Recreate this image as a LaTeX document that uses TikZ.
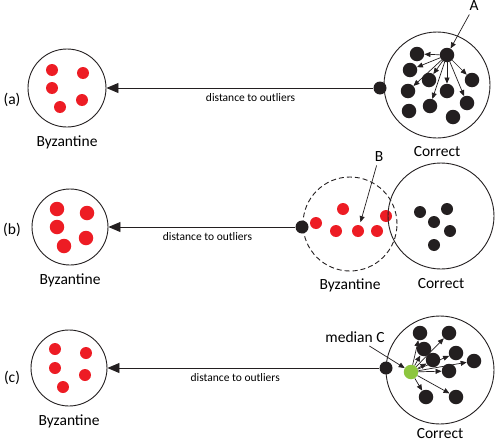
\documentclass[tikz,border=0pt]{standalone}
\usepackage{fontspec}
\setmainfont{Carlito}
\usepackage{tikz}
\usetikzlibrary{arrows.meta,positioning}
\definecolor{byzred}{HTML}{ED1C24}
\definecolor{medgreen}{HTML}{8DC63F}
\definecolor{dotblack}{HTML}{231F20}
\begin{document}
\begin{tikzpicture}[
  x=1pt,y=-1pt,
  font=\fontsize{15.5}{18}\selectfont,
  setcirc/.style={circle,draw=dotblack,line width=0.9pt,inner sep=0pt},
  reddot/.style={circle,fill=byzred,inner sep=0pt,minimum size=#1},
  reddot/.default=12pt,
  blkdot/.style={circle,fill=dotblack,inner sep=0pt,minimum size=#1},
  blkdot/.default=14.5pt,
  greendot/.style={circle,fill=medgreen,inner sep=0pt,minimum size=14.5pt},
  small/.style={font=\fontsize{11.5}{13}\selectfont},
  bigarr/.style={-{Triangle[length=12pt,width=10pt]},line width=0.9pt,draw=dotblack},
  smallarr/.style={-{Triangle[length=6pt,width=5pt]},line width=0.7pt,draw=dotblack}
]
\useasboundingbox (0,0) rectangle (496,442);

% (a)
\node (taga) at (12,100) {(a)};
\node[setcirc,minimum size=78pt] (byza) at (67,88) {};
\node[reddot] (ra1) at (52,70) {};
\node[reddot] (ra2) at (83,73) {};
\node[reddot] (ra3) at (52,88) {};
\node[reddot] (ra4) at (82,100) {};
\node[reddot] (ra5) at (60,107) {};
\node[below=5pt of byza] (byzlbla) {Byzantine};

\node[setcirc,minimum size=106pt] (corra) at (437,85) {};
\node[blkdot=13pt] (pa) at (380,88) {};
\node[blkdot] (ptA) at (447,55) {};
\node[blkdot] (ca1) at (417,54) {};
\node[blkdot] (ca2) at (410,70) {};
\node[blkdot] (ca3) at (429,80) {};
\node[blkdot] (ca4) at (472,80) {};
\node[blkdot] (ca5) at (408,91) {};
\node[blkdot] (ca6) at (447,91) {};
\node[blkdot] (ca7) at (467,103) {};
\node[blkdot] (ca8) at (409,111) {};
\node[blkdot] (ca9) at (430,106) {};
\node[blkdot] (ca10) at (453,117) {};
\node[below=4pt of corra] (corlbla) {Correct};
\node (lblA) at (474,6) {A};

\draw[smallarr] (lblA) -- (ptA);
\draw[smallarr] (ptA) -- (ca1);
\draw[smallarr] (ptA) -- (ca2);
\draw[smallarr] (ptA) -- (ca3);
\draw[smallarr] (ptA) -- (ca4);
\draw[smallarr] (ptA) -- (ca5);
\draw[smallarr] (ptA) -- (ca6);
\draw[smallarr] (ptA) -- (ca7);
\draw[smallarr] (ptA) -- (ca9);
\draw[bigarr] (pa) -- node[pos=.46,below=2pt,small]{distance to outliers} (byza);

% (b)
\node (tagb) at (12,230) {(b)};
\node[setcirc,minimum size=76pt] (byzb) at (70,227) {};
\node[reddot=14.5pt] (rb1) at (57,209) {};
\node[reddot=14.5pt] (rb2) at (87,213) {};
\node[reddot=14.5pt] (rb3) at (57,227) {};
\node[reddot=14.5pt] (rb4) at (86,238) {};
\node[reddot=14.5pt] (rb5) at (64,246) {};
\node[below=5pt of byzb] (byzlblb) {Byzantine};

\node[setcirc,dashed,dash pattern=on 5pt off 3pt,minimum size=94pt] (outl) at (350,224) {};
\node[reddot] (ob1) at (316,223) {};
\node[reddot] (ob2) at (343,209) {};
\node[reddot] (ob3) at (336,231) {};
\node[reddot] (ob4) at (358,231) {};
\node[reddot] (ob5) at (377,231) {};
\node[reddot] (ob6) at (386,216) {};
\node[blkdot=13pt] (pb) at (302,227) {};
\node[below=4pt of outl] (outlbl) {Byzantine};

\node[setcirc,minimum size=106pt] (corrb) at (441,216) {};
\node[blkdot=12pt] (cb1) at (420,212) {};
\node[blkdot=12pt] (cb2) at (447,209) {};
\node[blkdot=12pt] (cb3) at (434,222) {};
\node[blkdot=12pt] (cb4) at (450,231) {};
\node[blkdot=12pt] (cb5) at (434,245) {};
\node[below=5pt of corrb] (corlblb) {Correct};
\node (lblB) at (379,157) {B};

\draw[smallarr,shorten >=3pt] (lblB) -- (ob4);
\draw[bigarr] (pb) -- node[pos=.47,below=2pt,small]{distance to outliers} (byzb);

% (c)
\node (tagc) at (12,378) {(c)};
\node[setcirc,minimum size=76pt] (byzc) at (69,368) {};
\node[reddot] (rc1) at (55,349) {};
\node[reddot] (rc2) at (86,353) {};
\node[reddot] (rc3) at (55,368) {};
\node[reddot] (rc4) at (85,375) {};
\node[reddot] (rc5) at (63,387) {};
\node[below=5pt of byzc] (byzlblc) {Byzantine};

\node[setcirc,minimum size=108pt] (corrc) at (440,370) {};
\node[blkdot=13pt] (pc) at (386,368) {};
\node[greendot] (medC) at (411,372) {};
\node[blkdot] (cc1) at (420,333) {};
\node[blkdot] (cc2) at (449,333) {};
\node[blkdot] (cc3) at (424,349) {};
\node[blkdot] (cc4) at (456,353) {};
\node[blkdot] (cc5) at (433,360) {};
\node[blkdot] (cc6) at (474,361) {};
\node[blkdot] (cc7) at (449,371) {};
\node[blkdot] (cc8) at (426,397) {};
\node[blkdot] (cc9) at (456,397) {};
\node[below=0pt of corrc] (corlblc) {Correct};
\node (lblC) at (355,337) {median C};

\draw[smallarr] (lblC) -- (medC);
\draw[smallarr] (medC) -- (cc1);
\draw[smallarr] (medC) -- (cc2);
\draw[smallarr] (medC) -- (cc3);
\draw[smallarr] (medC) -- (cc4);
\draw[smallarr] (medC) -- (cc5);
\draw[smallarr] (medC) -- (cc6);
\draw[smallarr] (medC) -- (cc7);
\draw[smallarr] (medC) -- (cc8);
\draw[smallarr] (medC) -- (cc9);
\draw[bigarr] (pc) -- node[pos=.53,below=2pt,small]{distance to outliers} (byzc);
\end{tikzpicture}
\end{document}
